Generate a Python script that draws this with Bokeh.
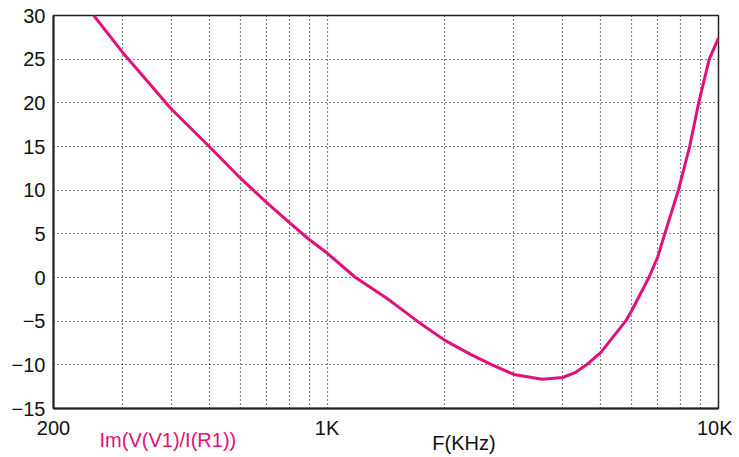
from bokeh.plotting import figure
from bokeh.models import FixedTicker, LogAxis, Range1d
from bokeh.embed import file_html
from bokeh.resources import INLINE

# data
freq_hz = [253.5, 300, 400, 500, 600, 700, 800, 900, 1000, 1182, 1424, 1700, 2000,
           2326, 2640, 3000, 3545, 4000, 4300, 4600, 5000, 5790, 6000, 6640, 7000,
           7290, 7900, 8440, 8900, 9470, 10000]
im_val = [30, 25.8, 19.3, 15, 11.4, 8.6, 6.3, 4.35, 2.8, 0, -2.4, -5, -7.2,
          -8.8, -10, -11.1, -11.65, -11.45, -10.9, -10, -8.6, -5, -3.8, 0, 2.4,
          5, 10, 15, 20, 25, 27.4]

x_major = [200, 1000, 10000]
x_major_labels = {200: "200", 1000: "1K", 10000: "10K"}
x_minor = [300, 400, 500, 600, 700, 800, 900, 2000, 3000, 4000, 5000, 6000, 7000, 8000, 9000]
y_ticks = [-15, -10, -5, 0, 5, 10, 15, 20, 25, 30]
y_labels = {t: (("\u2212" + str(-t)) if t < 0 else str(t)) for t in y_ticks}
series_name = "Im(V(V1)/I(R1))"
x_title = "F(KHz)"

FONT = "Liberation Sans"
CURVE = "#E2107A"

p = figure(width=732, height=456, x_axis_type="log",
           x_range=Range1d(200, 10000), y_range=Range1d(-15, 30),
           output_backend="svg", toolbar_location=None,
           min_border_left=53, min_border_right=14, min_border_top=15, min_border_bottom=48)

p.line(freq_hz, im_val, line_color=CURVE, line_width=3)

p.xaxis.ticker = FixedTicker(ticks=x_major, minor_ticks=x_minor)
p.xaxis.major_label_overrides = x_major_labels
p.yaxis.ticker = FixedTicker(ticks=y_ticks)
p.yaxis.major_label_overrides = y_labels

for ax in (p.xaxis[0], p.yaxis[0]):
    ax.major_tick_line_color = None
    ax.minor_tick_line_color = None
    ax.major_tick_out = 0
    ax.major_tick_in = 0
    ax.minor_tick_out = 0
    ax.minor_tick_in = 0
    ax.axis_line_color = "#222222"
    ax.axis_line_width = 2
    ax.major_label_text_font = FONT
    ax.major_label_text_font_size = "20px"
    ax.major_label_text_color = "#111111"
p.xaxis.major_label_standoff = 8
p.yaxis.major_label_standoff = 8

# bottom texts: series name (magenta) and axis title, as extra label-only axes
name_axis = LogAxis(ticker=FixedTicker(ticks=[392]), major_label_overrides={392: series_name},
                    major_label_standoff=-13)
title_axis = LogAxis(ticker=FixedTicker(ticks=[2237]), major_label_overrides={2237: x_title},
                     major_label_standoff=-22)
for ax, col in ((name_axis, CURVE), (title_axis, "#111111")):
    ax.axis_line_color = None
    ax.major_tick_line_color = None
    ax.minor_tick_line_color = None
    ax.major_tick_out = 0
    ax.major_tick_in = 0
    ax.minor_tick_out = 0
    ax.minor_tick_in = 0
    ax.major_label_text_font = FONT
    ax.major_label_text_font_size = "20px"
    ax.major_label_text_color = col
    p.add_layout(ax, "below")

# grid follows the frequency ticks only
p.xgrid[0].ticker = FixedTicker(ticks=x_major, minor_ticks=x_minor)

p.outline_line_color = "#222222"
p.outline_line_width = 1.5

for g in (p.xgrid[0], p.ygrid[0]):
    g.grid_line_color = "black"
    g.grid_line_dash = "1 3"
    g.grid_line_width = 1.2
p.xgrid.minor_grid_line_color = "black"
p.xgrid.minor_grid_line_dash = "1 3"
p.xgrid.minor_grid_line_width = 1.2

p.background_fill_color = "white"
p.border_fill_color = "white"

open("out.html", "w").write(file_html(p, INLINE))
